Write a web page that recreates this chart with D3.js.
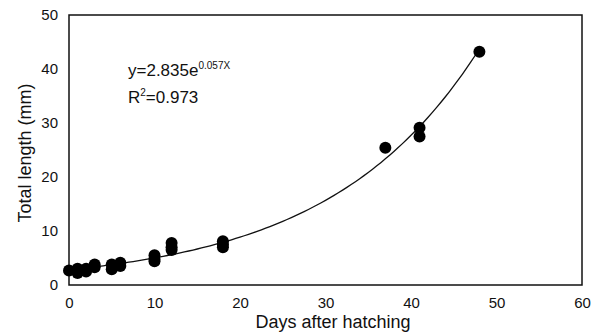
<!DOCTYPE html>
<html>
<head>
<meta charset="utf-8">
<script src="https://cdn.jsdelivr.net/npm/d3@7"></script>
<style>
  body { margin: 0; background: #fff; }
  svg { font-family: "Liberation Sans", Arial, sans-serif; }
</style>
</head>
<body>
<svg id="chart" width="601" height="335"></svg>
<script>
// observed points: days after hatching / total length (mm)
const days    = [0, 1, 1, 2, 2, 3, 3, 5, 5, 6, 6, 10, 10, 10, 12, 12, 12, 18, 18, 18, 37, 41, 41, 48];
const lengths = [2.7, 2.2, 3.0, 2.5, 3.0, 3.8, 3.3, 2.9, 3.8, 4.1, 3.5, 5.5, 4.8, 4.4, 7.8, 7.0, 6.5, 8.1, 7.5, 7.0, 25.4, 29.1, 27.5, 43.2];

const xTicks = [0, 10, 20, 30, 40, 50, 60];
const yTicks = [0, 10, 20, 30, 40, 50];

// fitted curve y = a * e^(b x), as printed on the chart
const fitA = 2.835, fitB = 0.057;
const fitRange = [0, 48];

const svg = d3.select("#chart");
const mLeft = 69, mRight = 582, mTop = 15, mBottom = 285;

const x = d3.scaleLinear().domain([0, 60]).range([mLeft, mRight]);
const y = d3.scaleLinear().domain([0, 50]).range([mBottom, mTop]);

// frame
svg.append("rect")
  .attr("x", mLeft).attr("y", mTop)
  .attr("width", mRight - mLeft).attr("height", mBottom - mTop)
  .attr("fill", "none").attr("stroke", "#111").attr("stroke-width", 1.5);

// axes (labels only, no tick marks)
svg.append("g")
  .attr("transform", "translate(0," + mBottom + ")")
  .call(d3.axisBottom(x).tickValues(xTicks).tickSize(0).tickPadding(12))
  .call(g => g.select(".domain").remove())
  .call(g => g.attr("font-family", null).attr("font-size", null))
  .selectAll("text").attr("font-size", 15).attr("fill", "#111");

svg.append("g")
  .attr("transform", "translate(" + mLeft + ",0)")
  .call(d3.axisLeft(y).tickValues(yTicks).tickSize(0).tickPadding(11))
  .call(g => g.select(".domain").remove())
  .call(g => g.attr("font-family", null).attr("font-size", null))
  .selectAll("text").attr("font-size", 15).attr("fill", "#111");

// trend curve
const curveXs = d3.range(fitRange[0], fitRange[1] + 0.01, 0.5);
svg.append("path")
  .datum(curveXs)
  .attr("fill", "none").attr("stroke", "#111").attr("stroke-width", 1.3)
  .attr("d", d3.line().x(d => x(d)).y(d => y(fitA * Math.exp(fitB * d))));

// points
svg.selectAll("circle.pt")
  .data(days.map((d, i) => [d, lengths[i]]))
  .enter()
  .append("circle")
  .attr("class", "pt")
  .attr("cx", d => x(d[0]))
  .attr("cy", d => y(d[1]))
  .attr("r", 6)
  .attr("fill", "#000");

// equation text
const eq = svg.append("text").attr("x", 128).attr("y", 76).attr("font-size", 17).attr("fill", "#111");
eq.append("tspan").text("y=2.835e");
eq.append("tspan").attr("dy", -7).attr("font-size", 10).text("0.057X");

const r2 = svg.append("text").attr("x", 128).attr("y", 103).attr("font-size", 17).attr("fill", "#111");
r2.append("tspan").text("R");
r2.append("tspan").attr("dy", -7).attr("font-size", 10).text("2");
r2.append("tspan").attr("dy", 7).text("=0.973");

// axis titles
svg.append("text")
  .attr("x", 333).attr("y", 328)
  .attr("text-anchor", "middle").attr("font-size", 18).attr("fill", "#111")
  .text("Days after hatching");

svg.append("text")
  .attr("transform", "translate(31,153) rotate(-90)")
  .attr("text-anchor", "middle").attr("font-size", 18).attr("fill", "#111")
  .text("Total length (mm)");
</script>
</body>
</html>
